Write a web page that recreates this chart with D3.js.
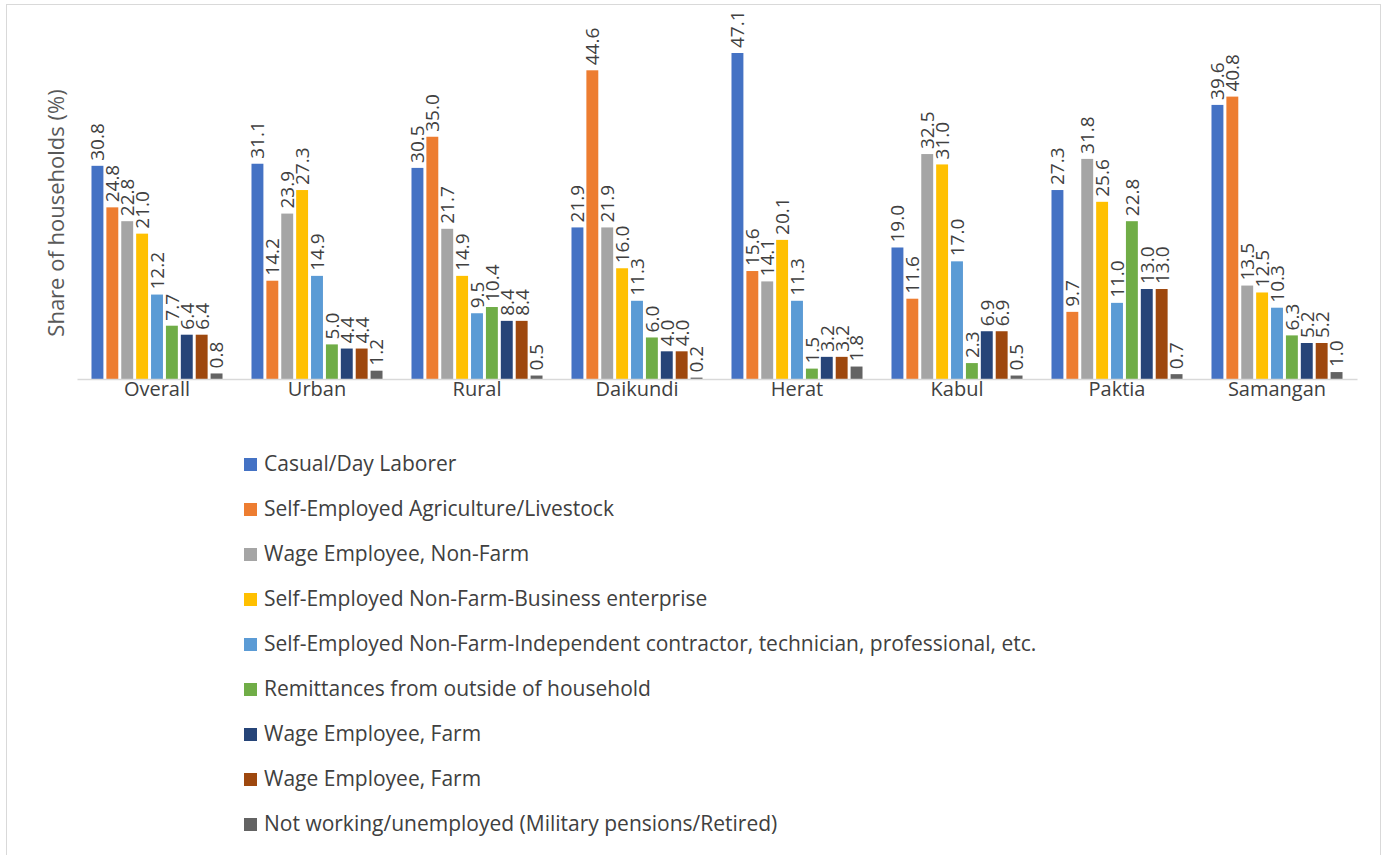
<!DOCTYPE html>
<html><head><meta charset="utf-8">
<script src="https://cdn.jsdelivr.net/npm/d3@7"></script>
<style>
html,body{margin:0;padding:0;background:#fff;}
svg{display:block;font-family:"Open Sans","Noto Sans",sans-serif;}
</style></head>
<body><svg id="chart" width="1383" height="855"></svg>
<script>
const categories = ["Overall","Urban","Rural","Daikundi","Herat","Kabul","Paktia","Samangan"];
const seriesNames = [
  "Casual/Day Laborer",
  "Self-Employed Agriculture/Livestock",
  "Wage Employee, Non-Farm",
  "Self-Employed Non-Farm-Business enterprise",
  "Self-Employed Non-Farm-Independent contractor, technician, professional, etc.",
  "Remittances from outside of household",
  "Wage Employee, Farm",
  "Wage Employee, Farm",
  "Not working/unemployed (Military pensions/Retired)"
];
const seriesColors = ["#4472C4","#ED7D31","#A5A5A5","#FFC000","#5B9BD5","#70AD47","#264478","#9E480E","#636363"];
const casualDay   = [30.8,31.1,30.5,21.9,47.1,19.0,27.3,39.6];
const selfAgri    = [24.8,14.2,35.0,44.6,15.6,11.6,9.7,40.8];
const wageNonFarm = [22.8,23.9,21.7,21.9,14.1,32.5,31.8,13.5];
const selfBiz     = [21.0,27.3,14.9,16.0,20.1,31.0,25.6,12.5];
const selfIndep   = [12.2,14.9,9.5,11.3,11.3,17.0,11.0,10.3];
const remittances = [7.7,5.0,10.4,6.0,1.5,2.3,22.8,6.3];
const wageFarm1   = [6.4,4.4,8.4,4.0,3.2,6.9,13.0,5.2];
const wageFarm2   = [6.4,4.4,8.4,4.0,3.2,6.9,13.0,5.2];
const notWorking  = [0.8,1.2,0.5,0.2,1.8,0.5,0.7,1.0];
const seriesValues = [casualDay,selfAgri,wageNonFarm,selfBiz,selfIndep,remittances,wageFarm1,wageFarm2,notWorking];
const yTitle = "Share of households (%)";

const svg = d3.select("#chart");
svg.append("rect").attr("x",6.5).attr("y",4.5).attr("width",1374).attr("height",860)
  .attr("fill","none").attr("stroke","#d9d9d9").attr("stroke-width",1);

const plot = {left:77, right:1357, base:379};
const x0 = d3.scaleBand().domain(categories).range([plot.left, plot.right]);
const x1 = d3.scaleBand().domain(d3.range(seriesNames.length)).range([13, x0.bandwidth()-13]).paddingInner(0.2).paddingOuter(0.1);
const y = d3.scaleLinear().domain([0, 47.1]).range([plot.base, 53]);

const valFont = 19;
const groups = svg.append("g").selectAll("g.cat").data(categories).join("g")
  .attr("transform", d => `translate(${x0(d)},0)`);

seriesValues.forEach((vals, si) => {
  groups.append("rect")
    .attr("x", x1(si))
    .attr("width", x1.bandwidth())
    .attr("y", (d,i) => y(vals[i]))
    .attr("height", (d,i) => plot.base - y(vals[i]))
    .attr("fill", seriesColors[si]);
  groups.append("text")
    .attr("transform", (d,i) => `translate(${x1(si)+x1.bandwidth()/2+valFont*0.36},${y(vals[i])-5}) rotate(-90)`)
    .attr("font-size", valFont).attr("fill", "#404040")
    .text((d,i) => vals[i].toFixed(1));
});

const xAxis = d3.axisBottom(x0).tickSize(0).tickPadding(3);
const ax = svg.append("g").attr("transform", `translate(0,${plot.base})`).call(xAxis);
ax.select(".domain").attr("stroke","#d9d9d9").attr("stroke-width",1.3);
ax.selectAll("text").attr("font-size",20).attr("fill","#404040").attr("font-family","Open Sans, sans-serif");

svg.append("text").attr("transform","translate(56,213) rotate(-90)")
  .attr("text-anchor","middle").attr("dy","0.35em").attr("font-size",22).attr("fill","#595959").text(yTitle);

const leg = svg.append("g");
seriesNames.forEach((n,i) => {
  const yy = 464 + i*45;
  leg.append("rect").attr("x",244).attr("y",yy-6).attr("width",13).attr("height",13).attr("fill",seriesColors[i]);
  leg.append("text").attr("x",264).attr("y",yy).attr("dy","0.35em").attr("font-size",21).attr("fill","#404040").text(n);
});
</script></body></html>
